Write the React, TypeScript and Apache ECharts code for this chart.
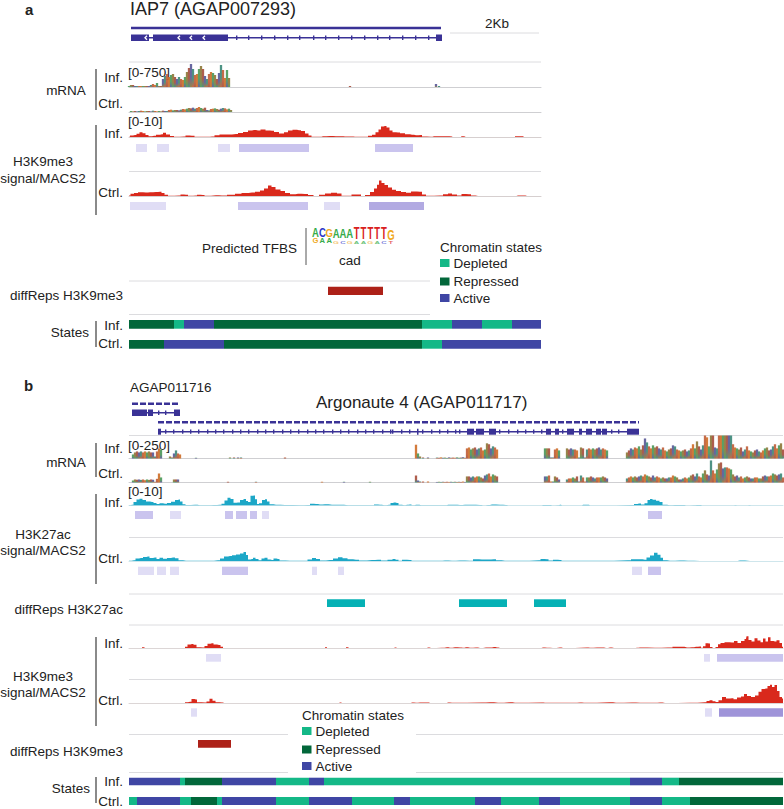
import React, { useEffect, useRef } from "react";
import * as echarts from "echarts";

// ---------- data: all positions are track coordinates ----------
const A_RANGE = [129, 541];
const B_RANGE = [129, 783];
const D = 0, R = 1, C = 2; // depleted, repressed, active
const stateNames = ["Depleted", "Repressed", "Active"];

// coverage segments: [start, values every 2 units]
const mrnaAInf: any[] = [
  [129, [30,60,60,30,30,30,30,30,30,30,30,60,90,60,120,30,30,240,330,390,300,360,390,300,240,300,240,210,300,450,570,690,540,360,390,540,630,540,330,240,390,450,420,360,240,420,660,510,270,510,270]],
  [350, [30]], [436, [90]], [439, [30]],
];
const mrnaACtrl: any[] = [
  [131, [30,20,30,20,30,40,30,20,30,30,20,40,30,20,30,20,40,30,30,60,70,50,60,60,50,70,90,80,100,120,110,130,100,120,150,120,100,130,60,50,90,100,110,90,70,100,120,110,80,100,60]],
];
const mrnaBInf: any[] = [
  [133, [44,66,77,66,77,66,77,66,77,66,66,22,77,110,98]],
  [170, [22,11,55,88,55,44]],
  [196, [8]], [230, [11]], [234, [11]], [238, [11]], [241, [11]], [285, [11]],
  [416, [150,55,22]], [423, [11]], [428, [11]],
  [437, [10,8,12,8,10,6,12,8,10,8,12,8,10,14,8]],
  [467, [110,120,98,110,120,98,110,120,88,98,165,155,110,132,120,98]],
  [545, [110,110,110,11,11,98,110,88]],
  [567, [110,98,110,98,98,88,11,120,110,11,98,110,98,110,98,110,120,98,110,98,88]],
  [627, [66,88,110,98,120,110,132,98,143,218,175,132,110,143,120,132,110,98,120,88,77,98,110,143,132,98,88,77,88,98,77,88,110,155,110,186,132,98,143,250,230,132,250,250,120,110,250,250,250,250,250,250,250,155,120,110,98,120,77,98,132,88,77,66,88,98,77,66,88,110,120,88,98,132,155,110,143,165,98]],
];
const mrnaBCtrl: any[] = [
  [133, [22,33,30,33,28,33,25,33,28,33,30,8,40,98,55]],
  [174, [33,33,33]], [256, [8]], [228, [8]], [322, [8]], [344, [8]], [370, [8]],
  [416, [76,22,11]], [423, [11]], [428, [11]],
  [437, [6,8,6,8,6,8,6,8,6,8,6,8,6,10,6]],
  [467, [66,66,55,66,55,66,66,55,44,76,88,98,66,88,76,66]],
  [545, [66,66,76,11,11,66,55,33]],
  [567, [33,44,44,55,44,66,11,76,55,11,55,55,66,55,44,55,55,55,66,55,44]],
  [627, [44,55,66,55,66,55,66,76,66,88,76,66,55,76,55,66,55,44,55,44,44,55,55,76,66,55,33,33,44,55,44,55,76,88,66,98,66,55,98,132,88,76,240,132,98,142,208,218,153,164,164,153,142,88,66,76,55,66,44,55,66,55,44,44,55,55,44,44,66,76,66,66,76,98,88,76,88,98,55]],
];

const k9AInf = [[129,.1],[131,.6],[135,.8],[138,1.3],[141,1.9],[144,1.5],[147,.8],[150,.3],[154,.5],[158,.9],[162,1.1],[164,1.7],[168,1.0],[172,.4],[176,.1],[184,.2],[187,.6],[192,.5],[197,.1],[208,.1],[212,.2],[217,.7],[222,1.0],[228,1.0],[236,1.2],[240,1.6],[246,2.0],[250,2.6],[254,2.8],[258,2.6],[263,3.0],[268,2.6],[272,2.5],[276,2.0],[282,1.4],[286,1.9],[290,2.6],[295,2.9],[299,2.7],[303,2.4],[307,1.4],[310,.6],[313,.1],[320,.1],[323,.3],[330,.4],[336,.3],[342,.3],[345,.2],[352,.2],[355,.1],[366,.1],[370,.5],[374,.9],[377,1.9],[380,3.0],[382,4.2],[385,4.4],[388,3.8],[391,2.6],[394,1.9],[398,1.8],[402,1.5],[408,1.1],[412,.9],[416,.7],[421,.8],[423,.2],[431,.1],[434,.3],[440,.3],[447,.3],[452,.2],[453,0],[461,0],[462,.3],[465,.2],[466,0],[514,0],[516,.3],[522,.3],[525,0],[541,0]];
const k9ACtrl = [[129,.2],[132,.9],[136,1.2],[140,1.5],[146,1.4],[150,1.5],[156,1.6],[160,1.7],[163,1.2],[166,.5],[170,.1],[179,.2],[182,.6],[186,.5],[190,.1],[196,.2],[198,.5],[203,.4],[206,.1],[216,.3],[222,.2],[232,.5],[238,.9],[245,1.2],[252,1.4],[258,1.7],[262,2.2],[266,3.0],[270,4.2],[273,3.6],[278,2.6],[283,2.0],[287,1.2],[293,.7],[298,.9],[305,.8],[311,.4],[316,.05],[322,.5],[328,1.0],[334,1.3],[340,1.0],[343,.1],[350,.1],[353,.6],[360,.6],[362,.05],[368,.4],[372,1.6],[376,3.0],[378,4.5],[380,6.2],[383,5.2],[386,4.4],[390,3.4],[394,2.5],[398,2.0],[404,1.6],[408,1.3],[414,1.8],[420,1.7],[424,.6],[428,.1],[440,.2],[446,.7],[450,1.0],[454,.6],[460,.2],[463,.8],[469,.7],[473,.2],[478,0],[515,0],[518,.2],[524,.2],[527,0],[541,0]];

const k27BInf = [[129,.1],[132,.3],[135,1.4],[138,2.4],[141,2.7],[144,2.2],[148,1.6],[152,1.4],[155,1],[158,.6],[161,.9],[165,.7],[169,1],[173,1.5],[177,2.2],[179,2.4],[181,1.6],[184,.5],[187,.2],[195,.3],[200,.15],[208,.15],[214,.2],[220,.3],[223,.7],[226,2.0],[229,3.1],[232,2.6],[235,1.1],[238,1.2],[242,2.2],[245,2.6],[247,1.8],[249,1.4],[252,3.9],[254,4.0],[256,2.5],[258,.6],[260,.9],[264,2.2],[266,2.5],[268,1.6],[271,.5],[276,.3],[285,.25],[300,.15],[308,.2],[312,.7],[316,.6],[320,.4],[325,.5],[332,.3],[340,.3],[348,.1],[372,.1],[376,.4],[380,.3],[384,.1],[389,.3],[392,1.0],[394,1.2],[397,1.0],[400,.3],[404,.1],[407,.3],[410,.4],[413,.1],[416,.3],[418,.3],[421,.1],[446,.1],[448,.3],[455,.3],[460,.2],[465,.3],[472,.3],[480,.2],[483,.05],[488,.2],[492,.4],[500,.35],[506,.2],[508,.05],[541,.05],[543,.25],[550,.25],[552,.05],[558,.1],[560,.3],[562,.05],[581,.05],[583,.3],[588,.3],[590,.05],[600,.05],[632,.2],[636,.6],[639,.8],[643,.4],[646,.9],[649,2.2],[651,2.6],[654,2.3],[658,1.9],[661,1.4],[664,.3],[670,.1],[675,.25],[683,.25],[686,.05],[694,.1],[697,.25],[700,.2],[702,.05],[733,.05],[735,.15],[737,.05],[747,.05],[749,.15],[751,.05],[783,.05]];
const k27BCtrl = [[129,.1],[134,.3],[137,1.0],[141,1.2],[145,1.6],[148,1.8],[151,1.2],[155,1.4],[158,.8],[161,1.3],[165,.9],[169,1.2],[173,1.4],[177,1.1],[180,.3],[186,.1],[210,.1],[218,.3],[222,1.0],[226,1.8],[230,2.0],[234,2.3],[238,2.6],[242,3.0],[245,3.6],[247,2.4],[249,.6],[252,.8],[254,1.3],[257,.8],[260,.3],[263,1.0],[266,1.3],[269,.6],[272,.4],[275,1.0],[278,.8],[281,.2],[290,.1],[305,.1],[310,.6],[314,1.2],[318,.8],[322,.2],[330,.4],[336,1.0],[340,1.5],[345,1.1],[350,.7],[356,.5],[362,.2],[372,.4],[378,.5],[384,.2],[391,.5],[394,.8],[397,.5],[400,.1],[404,.5],[410,.4],[413,.1],[425,.15],[440,.1],[445,.2],[452,.15],[460,.25],[470,.1],[476,.7],[482,.6],[488,.6],[494,.7],[498,.3],[505,.1],[520,.1],[539,.3],[542,.8],[547,.7],[550,.2],[556,.5],[560,.4],[563,.1],[590,.1],[600,.1],[628,.3],[634,.7],[640,.7],[645,.5],[648,1.4],[652,2.2],[656,3.3],[659,2.5],[662,1.3],[664,.3],[670,.1],[680,.2],[688,.15],[700,.05],[735,.05],[740,.2],[750,.05],[783,.05]];

const k9BInf = [[129,0],[141,0],[143,.3],[146,0],[184,0],[186,.5],[189,1.4],[192,1.6],[195,1.3],[198,.3],[203,.2],[206,.8],[209,1.7],[212,1.9],[215,1.4],[219,1.2],[222,.5],[224,0],[324,0],[326,.3],[328,0],[345,0],[347,.3],[350,0],[393,0],[395,.25],[397,0],[426,0],[428,.2],[431,0],[442,.15],[447,.3],[450,.1],[455,.3],[460,.2],[463,.1],[466,.3],[470,.1],[476,.25],[480,.05],[486,.2],[490,.25],[494,.4],[497,.25],[500,0],[540,0],[543,.25],[547,.1],[553,.05],[560,.2],[563,0],[587,.25],[590,.1],[597,.2],[602,.2],[606,.05],[610,.2],[614,0],[634,0],[637,.15],[640,.2],[655,.15],[668,.2],[677,.5],[682,.5],[687,.25],[692,.3],[696,.5],[700,.6],[702,.1],[704,.7],[707,1.9],[709,1.8],[711,.4],[714,0],[717,.4],[719,1.5],[722,2.0],[727,2.3],[732,2.2],[736,2.8],[739,2.0],[743,2.8],[746,3.6],[747,4.7],[750,3.2],[753,2.6],[756,3.9],[759,3.0],[762,2.3],[764,3.8],[767,2.6],[769,4.3],[772,2.8],[775,2.6],[778,3.1],[781,2.0],[783,.5]];
const k9BCtrl = [[129,0],[184,0],[186,.3],[190,.5],[193,1.6],[196,1.4],[198,.3],[205,.2],[208,.6],[211,1.7],[214,.9],[217,.3],[222,.2],[224,0],[338,0],[340,.2],[342,0],[410,0],[412,.2],[416,.1],[420,.2],[428,.25],[430,0],[446,0],[448,.25],[452,.1],[482,.25],[490,.3],[498,.1],[510,.3],[515,.1],[542,.2],[545,.1],[574,.1],[580,.25],[584,.1],[610,.3],[616,.1],[632,.25],[640,.1],[655,.15],[660,.2],[665,.05],[690,.15],[705,.3],[708,.8],[711,1.1],[714,.7],[717,.4],[720,1.1],[724,2.4],[728,1.8],[732,1.9],[735,1.5],[739,2.2],[743,2.6],[745,3.6],[749,2.8],[753,2.4],[757,3.0],[760,4.5],[763,5.6],[766,5.8],[769,6.8],[771,7.3],[773,6.4],[776,7.2],[778,4.8],[781,2.4],[783,1.8]];

// MACS2 peaks: [start, end, shade]
const macsAInf = [[136,147,0],[157,169,0],[218,230,0],[239,309,1],[375,413,1]];
const macsACtrl = [[130,166,0],[238,308,1],[324,340,0],[369,424,2]];
const macsK27Inf = [[135,153,1],[170,181,0],[225,233,1],[236,247,1],[250,257,1],[262,269,0],[648,662,1]];
const macsK27Ctrl = [[138,154,0],[157,166,0],[170,179,0],[222,248,1],[312,317,0],[338,344,0],[632,642,0],[648,661,1]];
const macsK9Inf = [[206,221,0],[704,710,0],[717,783,1]];
const macsK9Ctrl = [[191,197,0],[705,712,0],[719,783,3]];

const diffK9A = [[328,383,0]];
const diffK27B = [[327,365,1],[459,507,1],[534,566,1]];
const diffK9B = [[198,231,0]];

const statesAInfEdges = [129,174,184,214,422,452,482,512,541];
const statesAInfKinds = [R,D,C,R,D,C,D,C];
const statesACtrlEdges = [129,164,224,422,442,541];
const statesACtrlKinds = [R,C,R,D,C];
const statesBInfEdges = [129,180,185,222,276,309,324,630,662,679,783];
const statesBInfKinds = [C,D,R,C,D,C,D,C,D,R];
const statesBCtrlEdges = [129,137,180,191,217,222,276,309,352,394,410,475,501,539,560,630,662,690,783];
const statesBCtrlKinds = [D,C,D,R,D,C,D,C,D,C,D,C,D,C,D,C,D,R];

// gene models: [start, end, kind] kind 0 intron line, 1 exon, 2 tick, 3 chevron
const iap7Transcript = [131, 441];
const iap7Exons = [[131,149,1],[153,228,1],[436,442,1]];
const iap7Ticks = [236,248,261,274,287,299,313,325,338,351,364,377,389,402,415,428];
const iap7Chevrons = [145,178,190,203];
const ago1Transcript = [132, 180];
const ago1Exons = [[132,147,1],[148,153,1],[174,180,1]];
const ago1Ticks = [158,165];
const ago4Transcript = [158, 639];
const ago4Exons = [[158,161,1],[417,418.5,1],[467,474,1],[476,484,1],[489,496,1],[546,551,1],[555,559,1],[567,574,1],[579,582,1],[586,592,1],[596,601,1],[602,607,1],[627,639,1]];
const ago4Ticks = [165,173,182,190,198,207,215,223,232,240,248,257,265,273,282,290,298,307,315,323,332,340,348,357,365,373,382,390,392,401,409,422,431,439,447,455,459,499,508,517,525,533,541,562,611,618];

// sequence logo letters
const logoTop = "ACGAAATTTTTG";
const logoBottom = "GAAGCGAAGACT";

// ---------- styling ----------
const FONT = "'Liberation Sans', Arial, sans-serif";
const INK = "#222";
const GENE = "#3a3296";
const STATE_COLORS = ["#14b887", "#02673a", "#3f46a4"];
const SHADES = ["#e0ddf5", "#cac4ee", "#b2aae2", "#9f94d9"];
const DIFF_RED = ["#ad2118", "#06b1b5"];
const MRNA = ["#4c9a5b", "#c0603a", "#5b5a98", "#8f7a3c", "#cf6f2a", "#3f8a7a", "#a8503e"];
const LOGO: Record<string, string> = { A: "#35ab4a", C: "#2a35c8", G: "#f0a91e", T: "#d92020" };

const expand = (segs: any[]) => {
  const out: number[][] = [];
  segs.forEach(([start, vals]) => vals.forEach((v: number, i: number) => out.push([start + i * 2, v])));
  return out;
};
const segments = (edges: number[], kinds: number[]) => kinds.map((k, i) => [edges[i], edges[i + 1], k]);

function buildOption() {
  const grid: any[] = [], xAxis: any[] = [], yAxis: any[] = [], series: any[] = [], graphic: any[] = [];

  const addGrid = (top: number, height: number, range: number[], yMax: number, baseline?: string) => {
    const i = grid.length;
    grid.push({ left: range[0], top, width: range[1] - range[0], height, show: false });
    xAxis.push({
      gridIndex: i, type: "value", min: range[0], max: range[1],
      axisLabel: { show: false }, axisTick: { show: false }, splitLine: { show: false },
      axisLine: baseline ? { show: true, lineStyle: { color: baseline, width: 1 } } : { show: false },
    });
    yAxis.push({ gridIndex: i, type: "value", min: 0, max: yMax, show: false, splitLine: { show: false } });
    return i;
  };

  const rects = (name: string, top: number, height: number, range: number[], data: number[][], palette: string[]) => {
    const i = addGrid(top, height, range, 1);
    series.push({
      type: "custom", name, xAxisIndex: i, yAxisIndex: i, data, silent: true, clip: false,
      renderItem: (_: any, api: any) => {
        const s = api.coord([api.value(0), 0]);
        const e = api.coord([api.value(1), 1]);
        return { type: "rect", shape: { x: s[0], y: e[1], width: e[0] - s[0], height: s[1] - e[1] }, style: { fill: palette[api.value(2)] } };
      },
    });
  };

  const signal = (name: string, top: number, range: number[], data: number[][], color: string, edge: string) => {
    const i = addGrid(top, 25, range, 10, edge);
    series.push({
      type: "line", name, xAxisIndex: i, yAxisIndex: i, data, symbol: "none", silent: true, step: "middle",
      lineStyle: { width: 0, color }, areaStyle: { color, opacity: 1 },
    });
  };

  const coverage = (name: string, top: number, height: number, yMax: number, range: number[], segs: any[]) => {
    const i = addGrid(top, height, range, yMax, "#cfcfd2");
    const data = expand(segs);
    series.push({
      type: "bar", name, xAxisIndex: i, yAxisIndex: i, barWidth: 2.3, silent: true,
      data: data.map((d, k) => ({
        value: d,
        itemStyle: {
          opacity: 0.92,
          color: new echarts.graphic.LinearGradient(0, 0, 0, 1, [
            { offset: 0, color: MRNA[(k * 3) % MRNA.length] },
            { offset: 0.55, color: MRNA[(k * 3) % MRNA.length] },
            { offset: 1, color: MRNA[(k * 5 + 2) % MRNA.length] },
          ]),
        },
      })),
    });
  };

  const gene = (name: string, top: number, height: number, range: number[], transcript: number[], exons: number[][], ticks: number[], chevrons: number[]) => {
    const i = addGrid(top, height, range, 1);
    const data = [
      [transcript[0], transcript[1], 0],
      ...ticks.map((t) => [t, t + 1.4, 2]),
      ...exons,
      ...chevrons.map((c) => [c, c + 2, 3]),
    ];
    series.push({
      type: "custom", name, xAxisIndex: i, yAxisIndex: i, data, silent: true, clip: false,
      renderItem: (_: any, api: any) => {
        const kind = api.value(2);
        const yLo = kind === 0 ? 0.37 : kind === 2 ? 0.15 : 0;
        const yHi = kind === 0 ? 0.63 : kind === 2 ? 0.85 : 1;
        const s = api.coord([api.value(0), yLo]);
        const e = api.coord([api.value(1), yHi]);
        if (kind === 3) {
          return {
            type: "polyline",
            shape: { points: [[e[0], e[1] + 1.2], [s[0], (s[1] + e[1]) / 2], [e[0], s[1] - 1.2]] },
            style: { stroke: "#fff", fill: "none", lineWidth: 1.3 },
          };
        }
        return { type: "rect", shape: { x: s[0], y: e[1], width: e[0] - s[0], height: s[1] - e[1] }, style: { fill: GENE } };
      },
    });
  };

  const transcriptLine = (name: string, y: number, range: number[], ends: number[], dash: any) => {
    const i = addGrid(y - 2, 4, range, 1);
    series.push({
      type: "line", name, xAxisIndex: i, yAxisIndex: i, symbol: "none", silent: true, clip: false,
      data: [[ends[0], 0.5], [ends[1], 0.5]],
      lineStyle: { color: GENE, width: 2.4, type: dash },
    });
  };

  const text = (t: string, x: number, y: number, align = "left", size = 13.5, extra: any = {}) =>
    graphic.push({
      type: "text", x, y, silent: true, ...extra.el,
      style: { text: t, fill: INK, font: `${extra.weight || "normal"} ${size}px ${FONT}`, align, verticalAlign: "middle", ...extra.style },
    });
  const vbar = (x: number, y1: number, y2: number) =>
    graphic.push({ type: "rect", silent: true, shape: { x: x - 1, y: y1, width: 2, height: y2 - y1 }, style: { fill: "#8a8a8a" } });
  const sep = (x1: number, x2: number, y: number) =>
    graphic.push({ type: "line", silent: true, shape: { x1, y1: y, x2, y2: y }, style: { stroke: "#dcdcdf", lineWidth: 1 } });
  const legend = (x: number, y0: number, ys: number[]) => {
    text("Chromatin states", x, y0);
    stateNames.forEach((n, i) => {
      graphic.push({ type: "rect", silent: true, shape: { x, y: ys[i] - 4, width: 9.5, height: 8 }, style: { fill: STATE_COLORS[i] } });
      text(n, x + 13.5, ys[i]);
    });
  };

  // ----- panel a -----
  text("a", 25, 9, "left", 15, { weight: "bold" });
  text("IAP7 (AGAP007293)", 130, 9, "left", 18);
  text("2Kb", 497, 23, "center", 13.5);
  sep(450, 539, 33);
  transcriptLine("IAP7 transcript", 28, A_RANGE, iap7Transcript, "solid");
  gene("IAP7 gene", 34.5, 6.5, A_RANGE, iap7Transcript.map((v, i) => (i ? v - 3 : v)), iap7Exons, iap7Ticks, iap7Chevrons);
  sep(129, 541, 62);
  coverage("mRNA Inf. a", 62, 25, 750, A_RANGE, mrnaAInf);
  coverage("mRNA Ctrl. a", 87, 25, 750, A_RANGE, mrnaACtrl);
  signal("H3K9me3 Inf. a", 112, A_RANGE, k9AInf, "#d9291c", "#d6cfcf");
  rects("MACS2 Inf. a", 144, 8, A_RANGE, macsAInf, SHADES);
  sep(129, 541, 171.5);
  signal("H3K9me3 Ctrl. a", 171, A_RANGE, k9ACtrl, "#d9291c", "#d6cfcf");
  rects("MACS2 Ctrl. a", 202, 8, A_RANGE, macsACtrl, SHADES);
  sep(129, 430, 281);
  sep(129, 430, 314.5);
  rects("diffReps H3K9me3 a", 286.7, 8.3, A_RANGE, diffK9A, DIFF_RED);
  rects("States Inf. a", 320, 8.7, A_RANGE, segments(statesAInfEdges, statesAInfKinds), STATE_COLORS);
  rects("States Ctrl. a", 340, 8.7, A_RANGE, segments(statesACtrlEdges, statesACtrlKinds), STATE_COLORS);

  text("mRNA", 66, 90, "center");
  vbar(96, 69, 110);
  text("Inf.", 123, 77, "right");
  text("Ctrl.", 123, 103, "right");
  text("[0-750]", 128, 72);
  text("[0-10]", 128, 121);
  text("Inf.", 123, 133, "right");
  text("Ctrl.", 123, 192, "right");
  text("H3K9me3", 43, 161, "center");
  text("signal/MACS2", 43, 178, "center");
  vbar(96, 125, 215);
  text("Predicted TFBS", 297, 248, "right");
  graphic.push({ type: "line", silent: true, shape: { x1: 306, y1: 228, x2: 306, y2: 265 }, style: { stroke: "#555", lineWidth: 1 } });
  text("cad", 350, 260, "center");
  const topScale = [1, 1, 0.95, 1.1, 1.1, 1.1, 1.4, 1.4, 1.4, 1.4, 1.4, 1.25];
  const topBottoms = [238.5, 238.5, 238.5, 240, 240, 240, 241.5, 241.5, 241.5, 241.5, 241.5, 243];
  logoTop.split("").forEach((ch, i) => {
    const b = logoBottom[i];
    graphic.push({
      type: "text", silent: true, x: 315.5 + i * 6.85, y: 244.5, scaleY: i < 3 ? 0.85 : 0.5, scaleX: 0.95,
      style: { text: b, fill: LOGO[b], font: `bold 8px ${FONT}`, align: "center", verticalAlign: "bottom", opacity: i < 3 ? 1 : 0.7 },
    });
    graphic.push({
      type: "text", silent: true, x: 315.5 + i * 6.85, y: topBottoms[i], scaleY: topScale[i] * 1.2, scaleX: 0.95,
      style: { text: ch, fill: LOGO[ch], font: `bold 10px ${FONT}`, align: "center", verticalAlign: "bottom" },
    });
  });
  legend(440, 247, [263, 281.5, 298]);
  text("diffReps H3K9me3", 123, 295.5, "right");
  text("States", 89, 332, "right");
  vbar(96, 321, 347);
  text("Inf.", 123, 325, "right");
  text("Ctrl.", 123, 343, "right");

  // ----- panel b -----
  text("b", 24, 385, "left", 15, { weight: "bold" });
  text("AGAP011716", 130, 387, "left", 13.5);
  text("Argonaute 4 (AGAP011717)", 316, 402, "left", 17);
  transcriptLine("AGAP011716 transcript", 403.7, B_RANGE, ago1Transcript, [6, 2]);
  gene("AGAP011716 gene", 409.5, 6.5, B_RANGE, ago1Transcript, ago1Exons, ago1Ticks, []);
  transcriptLine("AGO4 transcript", 422.3, B_RANGE, ago4Transcript, [6, 2]);
  gene("AGO4 gene", 428.7, 6, B_RANGE, ago4Transcript, ago4Exons, ago4Ticks, []);
  sep(129, 783, 435.5);
  coverage("mRNA Inf. b", 435.5, 23, 250, B_RANGE, mrnaBInf);
  coverage("mRNA Ctrl. b", 459.5, 23, 250, B_RANGE, mrnaBCtrl);
  signal("H3K27ac Inf.", 480.5, B_RANGE, k27BInf, "#1da7c7", "#cfe6ec");
  rects("MACS2 K27 Inf.", 511, 8, B_RANGE, macsK27Inf, SHADES);
  sep(129, 783, 537.5);
  signal("H3K27ac Ctrl.", 536, B_RANGE, k27BCtrl, "#1da7c7", "#cfe6ec");
  rects("MACS2 K27 Ctrl.", 566.7, 8.3, B_RANGE, macsK27Ctrl, SHADES);
  sep(129, 783, 594);
  rects("diffReps H3K27ac", 599.3, 7.7, B_RANGE, diffK27B, DIFF_RED);
  sep(129, 783, 625);
  signal("H3K9me3 Inf. b", 623, B_RANGE, k9BInf, "#d9291c", "#dcd6d6");
  rects("MACS2 K9 Inf.", 654, 7.7, B_RANGE, macsK9Inf, SHADES);
  sep(129, 783, 679.5);
  signal("H3K9me3 Ctrl. b", 678, B_RANGE, k9BCtrl, "#d9291c", "#dcd6d6");
  rects("MACS2 K9 Ctrl.", 708.3, 8.4, B_RANGE, macsK9Ctrl, SHADES);
  sep(129, 288, 734.5);
  sep(416, 783, 734.5);
  rects("diffReps H3K9me3 b", 740, 7.7, B_RANGE, diffK9B, DIFF_RED);
  sep(129, 288, 772.5);
  sep(416, 783, 772.5);
  rects("States Inf. b", 777.7, 7.6, B_RANGE, segments(statesBInfEdges, statesBInfKinds), STATE_COLORS);
  rects("States Ctrl. b", 797, 8, B_RANGE, segments(statesBCtrlEdges, statesBCtrlKinds), STATE_COLORS);

  text("mRNA", 66, 462, "center");
  vbar(96, 443, 477);
  text("Inf.", 123, 448, "right");
  text("Ctrl.", 123, 473, "right");
  text("[0-250]", 128, 445);
  text("[0-10]", 128, 491);
  text("Inf.", 123, 502, "right");
  text("Ctrl.", 123, 558, "right");
  text("H3K27ac", 43, 534, "center");
  text("signal/MACS2", 43, 550, "center");
  vbar(96, 494, 584);
  text("diffReps H3K27ac", 123, 609, "right");
  text("Inf.", 123, 643, "right");
  text("Ctrl.", 123, 700, "right");
  text("H3K9me3", 43, 676, "center");
  text("signal/MACS2", 43, 692, "center");
  vbar(96, 637, 726);
  legend(302, 715, [731, 749.5, 766]);
  text("diffReps H3K9me3", 123, 751, "right");
  text("States", 90, 788, "right");
  vbar(96, 777, 803);
  text("Inf.", 123, 781.5, "right");
  text("Ctrl.", 123, 801, "right");

  return { animation: false, backgroundColor: "#fff", grid, xAxis, yAxis, series, graphic };
}

export default function App() {
  const ref = useRef<HTMLDivElement>(null);
  useEffect(() => {
    document.body.style.margin = "0";
    const chart = echarts.init(ref.current!, undefined, { renderer: "svg" });
    chart.setOption(buildOption() as any);
    return () => chart.dispose();
  }, []);
  return <div ref={ref} style={{ width: 784, height: 809 }} />;
}
